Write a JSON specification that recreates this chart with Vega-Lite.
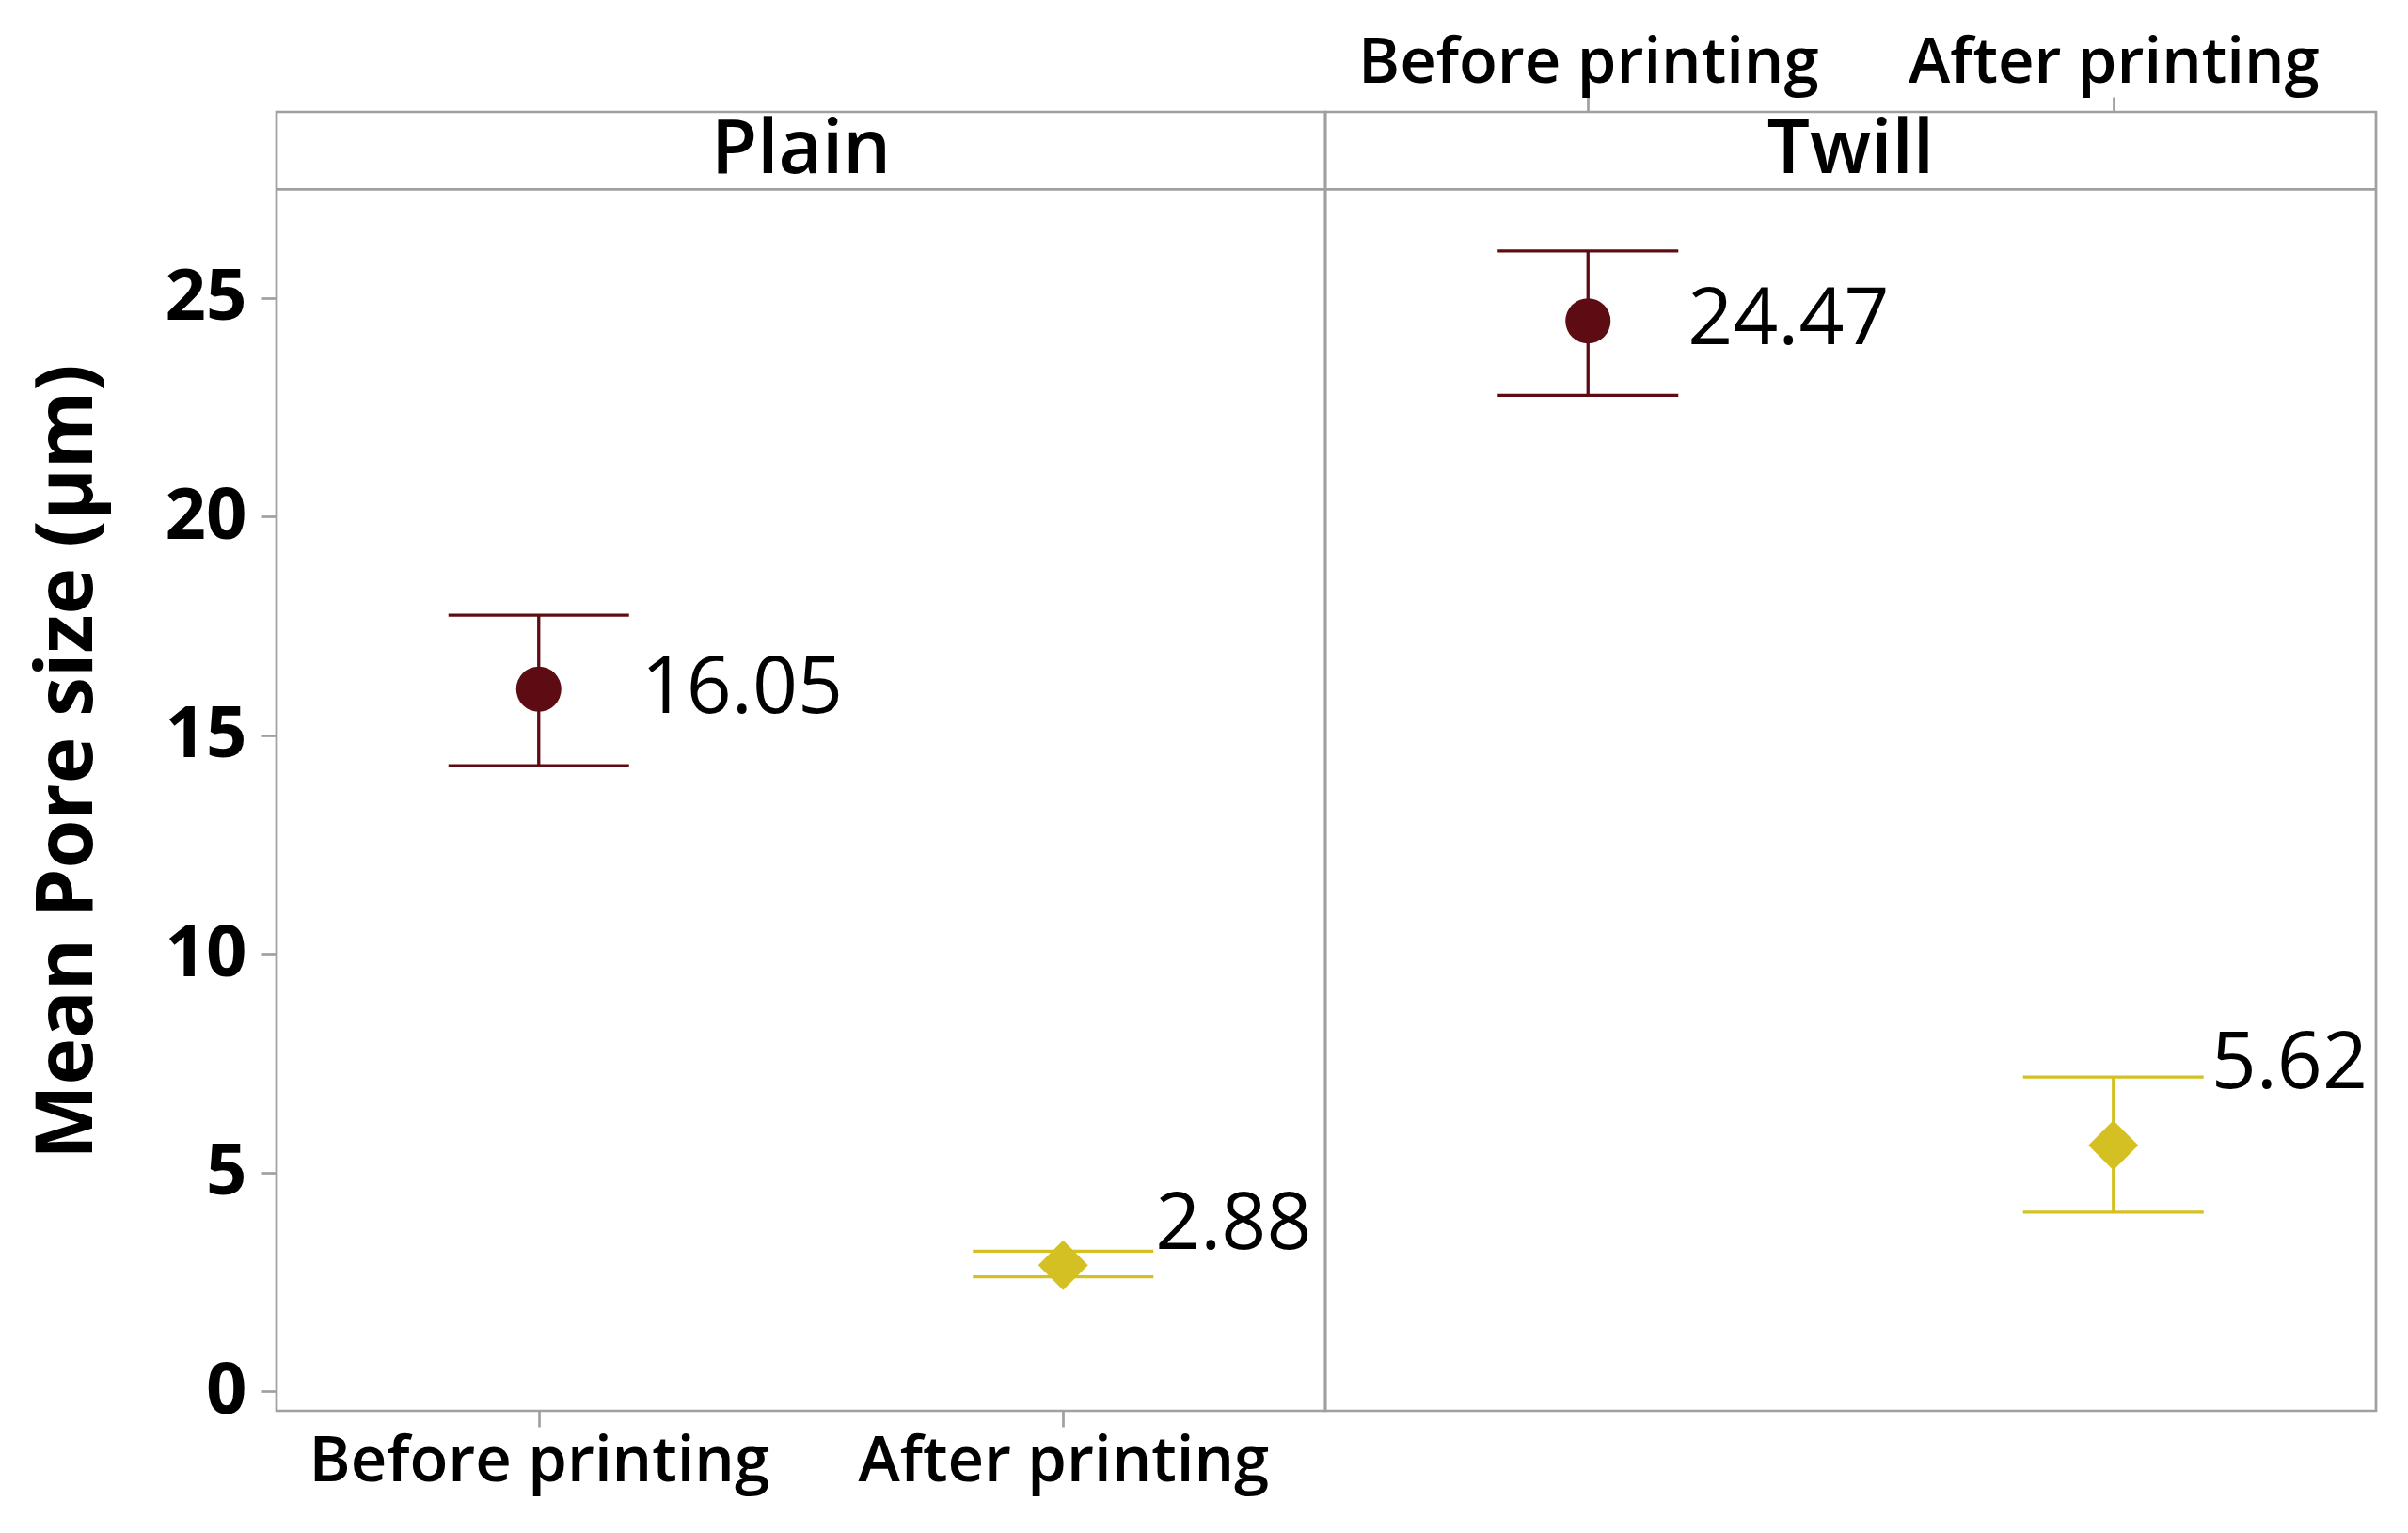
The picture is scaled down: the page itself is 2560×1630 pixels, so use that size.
{
  "$schema": "https://vega.github.io/schema/vega-lite/v6.json",
  "background": "white",
  "padding": {"left": 28, "top": 31, "right": 0, "bottom": 40},
  "spacing": 0,
  "bounds": "flush",
  "config": {
    "font": "Open Sans",
    "view": {"stroke": "#a0a0a0", "strokeWidth": 2.7},
    "axis": {"grid": false, "domain": false, "tickColor": "#a0a0a0", "tickWidth": 2.7, "labelColor": "black", "titleColor": "black", "labelLimit": 0}
  },
  "datasets": {
    "d": [
      {"Fabric": "Plain", "Stage": "Before printing", "Mean": 16.05, "Lower": 14.3, "Upper": 17.74},
      {"Fabric": "Plain", "Stage": "After printing", "Mean": 2.88, "Lower": 2.61, "Upper": 3.2},
      {"Fabric": "Twill", "Stage": "Before printing", "Mean": 24.47, "Lower": 22.77, "Upper": 26.07},
      {"Fabric": "Twill", "Stage": "After printing", "Mean": 5.62, "Lower": 4.09, "Upper": 7.18}
    ]
  },
  "hconcat": [
    {
      "width": 1115,
      "height": 1381,
      "data": {"name": "d"},
      "transform": [{"filter": "datum.Fabric === 'Plain'"}],
      "layer": [
        {
          "transform": [{"aggregate": [{"op": "count", "as": "n"}], "groupby": ["Fabric"]}],
          "mark": {"type": "rule", "color": "#a0a0a0", "strokeWidth": 2.7},
          "encoding": {"y": {"datum": 27.48, "type": "quantitative", "scale": {"domain": [-0.45, 29.25], "nice": false, "zero": false}}}
        },
        {
          "transform": [{"aggregate": [{"op": "count", "as": "n"}], "groupby": ["Fabric"]}],
          "mark": {"type": "text", "fontSize": 80, "fontWeight": 600, "baseline": "middle", "align": "center", "color": "black"},
          "encoding": {"y": {"datum": 28.37, "type": "quantitative"}, "text": {"field": "Fabric"}}
        },
        {
          "encoding": {
            "x": {"field": "Stage", "type": "nominal", "scale": {"type": "point", "domain": ["Before printing", "After printing"], "padding": 0.5},
                  "axis": {"orient": "bottom", "title": null, "labelAngle": 0, "tickSize": 17, "labelPadding": 4, "labelFontSize": 67, "labelFontWeight": 600}},
            "color": {"field": "Stage", "type": "nominal", "scale": {"domain": ["Before printing", "After printing"], "range": ["#5E0C14", "#D4C023"]}, "legend": null}
          },
          "layer": [
            {
              "mark": {"type": "rule", "strokeWidth": 3.3},
              "encoding": {
                "y": {"field": "Lower", "type": "quantitative", "scale": {"domain": [-0.45, 29.25], "nice": false, "zero": false},
                      "axis": {"values": [0, 5, 10, 15, 20, 25], "title": "Mean Pore size (μm)", "titleFontSize": 84, "titleFontWeight": "bold", "titlePadding": 60, "tickSize": 16, "labelPadding": 16, "labelFontSize": 76, "labelFontWeight": "bold"}},
                "y2": {"field": "Upper"}
              }
            },
            {"mark": {"type": "tick", "size": 192, "thickness": 3.3, "opacity": 1}, "encoding": {"y": {"field": "Lower", "type": "quantitative"}}},
            {"mark": {"type": "tick", "size": 192, "thickness": 3.3, "opacity": 1}, "encoding": {"y": {"field": "Upper", "type": "quantitative"}}},
            {
              "mark": {"type": "point", "filled": true, "opacity": 1},
              "encoding": {
                "y": {"field": "Mean", "type": "quantitative"},
                "shape": {"field": "Stage", "type": "nominal", "scale": {"domain": ["Before printing", "After printing"], "range": ["circle", "diamond"]}, "legend": null},
                "size": {"field": "Stage", "type": "nominal", "scale": {"domain": ["Before printing", "After printing"], "range": [2304, 2809]}, "legend": null}
              }
            },
            {
              "transform": [{"filter": "datum.Stage === 'Before printing'"}],
              "mark": {"type": "text", "align": "left", "baseline": "middle", "fontSize": 84, "dx": 109, "dy": 0},
              "encoding": {"y": {"field": "Mean", "type": "quantitative"}, "text": {"field": "Mean", "type": "quantitative", "format": ".2f"}, "color": {"value": "black"}}
            },
            {
              "transform": [{"filter": "datum.Stage === 'After printing'"}],
              "mark": {"type": "text", "align": "left", "baseline": "middle", "fontSize": 84, "dx": 98, "dy": -42},
              "encoding": {"y": {"field": "Mean", "type": "quantitative"}, "text": {"field": "Mean", "type": "quantitative", "format": ".2f"}, "color": {"value": "black"}}
            }
          ]
        }
      ]
    },
    {
      "width": 1117,
      "height": 1381,
      "data": {"name": "d"},
      "transform": [{"filter": "datum.Fabric === 'Twill'"}],
      "layer": [
        {
          "transform": [{"aggregate": [{"op": "count", "as": "n"}], "groupby": ["Fabric"]}],
          "mark": {"type": "rule", "color": "#a0a0a0", "strokeWidth": 2.7},
          "encoding": {"y": {"datum": 27.48, "type": "quantitative", "scale": {"domain": [-0.45, 29.25], "nice": false, "zero": false}, "axis": null}}
        },
        {
          "transform": [{"aggregate": [{"op": "count", "as": "n"}], "groupby": ["Fabric"]}],
          "mark": {"type": "text", "fontSize": 80, "fontWeight": 600, "baseline": "middle", "align": "center", "color": "black"},
          "encoding": {"y": {"datum": 28.37, "type": "quantitative"}, "text": {"field": "Fabric"}}
        },
        {
          "encoding": {
            "x": {"field": "Stage", "type": "nominal", "scale": {"type": "point", "domain": ["Before printing", "After printing"], "padding": 0.5},
                  "axis": {"orient": "top", "title": null, "labelAngle": 0, "tickSize": 16, "labelPadding": 2, "labelFontSize": 67, "labelFontWeight": 600}},
            "color": {"field": "Stage", "type": "nominal", "scale": {"domain": ["Before printing", "After printing"], "range": ["#5E0C14", "#D4C023"]}, "legend": null}
          },
          "layer": [
            {
              "mark": {"type": "rule", "strokeWidth": 3.3},
              "encoding": {
                "y": {"field": "Lower", "type": "quantitative", "scale": {"domain": [-0.45, 29.25], "nice": false, "zero": false}, "axis": null},
                "y2": {"field": "Upper"}
              }
            },
            {"mark": {"type": "tick", "size": 192, "thickness": 3.3, "opacity": 1}, "encoding": {"y": {"field": "Lower", "type": "quantitative"}}},
            {"mark": {"type": "tick", "size": 192, "thickness": 3.3, "opacity": 1}, "encoding": {"y": {"field": "Upper", "type": "quantitative"}}},
            {
              "mark": {"type": "point", "filled": true, "opacity": 1},
              "encoding": {
                "y": {"field": "Mean", "type": "quantitative"},
                "shape": {"field": "Stage", "type": "nominal", "scale": {"domain": ["Before printing", "After printing"], "range": ["circle", "diamond"]}, "legend": null},
                "size": {"field": "Stage", "type": "nominal", "scale": {"domain": ["Before printing", "After printing"], "range": [2304, 2809]}, "legend": null}
              }
            },
            {
              "transform": [{"filter": "datum.Stage === 'Before printing'"}],
              "mark": {"type": "text", "align": "left", "baseline": "middle", "fontSize": 84, "dx": 106, "dy": 0},
              "encoding": {"y": {"field": "Mean", "type": "quantitative"}, "text": {"field": "Mean", "type": "quantitative", "format": ".2f"}, "color": {"value": "black"}}
            },
            {
              "transform": [{"filter": "datum.Stage === 'After printing'"}],
              "mark": {"type": "text", "align": "left", "baseline": "middle", "fontSize": 84, "dx": 104, "dy": -86},
              "encoding": {"y": {"field": "Mean", "type": "quantitative"}, "text": {"field": "Mean", "type": "quantitative", "format": ".2f"}, "color": {"value": "black"}}
            }
          ]
        }
      ]
    }
  ]
}
